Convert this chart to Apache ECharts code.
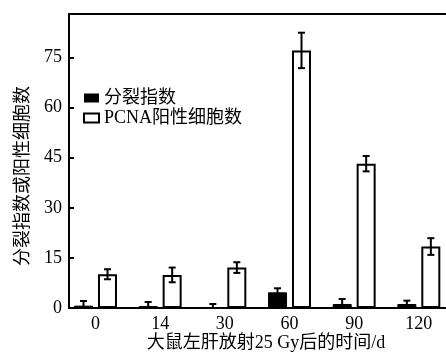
<!DOCTYPE html>
<html><head><meta charset="utf-8">
<script src="https://cdn.jsdelivr.net/npm/echarts@6/dist/echarts.min.js"></script>
<style>html,body{margin:0;padding:0;background:#fff}#c{width:446px;height:353px}</style>
</head><body><div id="c"></div>
<script>
var categories = ['0', '14', '30', '60', '90', '120'];
var mitosisIndex = [0.7, 0.6, 0.3, 4.7, 1.2, 1.2];
var mitosisErr = [1.4, 1.2, 0.9, 1.2, 1.5, 1.0];
var pcnaCells = [10.1, 9.9, 12.1, 77.1, 43.2, 18.4];
var pcnaErr = [1.5, 2.2, 1.6, 5.3, 2.3, 2.5];
var yTicks = [0, 15, 30, 45, 60, 75];
var seriesNames = ['分裂指数', 'PCNA阳性细胞数'];

var FONT = "'Liberation Serif', 'Noto Sans CJK SC', serif";
var chart = echarts.init(document.getElementById('c'), null, {renderer: 'canvas'});
var idx = categories.map(function (_, i) { return i; });

function errSeries(vals, errs, offset) {
  return {
    type: 'custom',
    xAxisIndex: 0, yAxisIndex: 0,
    silent: true,
    z: 5,
    data: idx.map(function (i) { return [i, vals[i], errs[i]]; }),
    renderItem: function (params, api) {
      var x = api.value(0), v = api.value(1), e = api.value(2);
      var top = api.coord([x, v + e]);
      var bot = api.coord([x, Math.max(0, v - e)]);
      var cx = top[0] + offset;
      var cap = 3.5;
      var st = {stroke: '#000', lineWidth: 2};
      return {type: 'group', children: [
        {type: 'line', shape: {x1: cx, y1: top[1], x2: cx, y2: bot[1]}, style: st},
        {type: 'line', shape: {x1: cx - cap, y1: top[1], x2: cx + cap, y2: top[1]}, style: st},
        {type: 'line', shape: {x1: cx - cap, y1: bot[1], x2: cx + cap, y2: bot[1]}, style: st}
      ]};
    }
  };
}

chart.setOption({
  animation: false,
  backgroundColor: '#fff',
  textStyle: {fontFamily: FONT, color: '#000'},
  grid: {left: 69, right: 0, top: 14, bottom: 45, containLabel: false, outerBoundsMode: 'none'},
  legend: {
    orient: 'vertical', left: 78, top: 84,
    itemWidth: 15, itemHeight: 9, itemGap: 2,
    textStyle: {fontFamily: FONT, fontSize: 18, color: '#000'},
    data: [
      {name: seriesNames[0], icon: 'rect', itemStyle: {color: '#000', borderColor: '#000', borderWidth: 0}},
      {name: seriesNames[1], icon: 'rect', itemStyle: {color: '#fff', borderColor: '#000', borderWidth: 2}}
    ]
  },
  xAxis: [{
    type: 'value', min: -0.41, max: 5.42,
    axisLine: {show: true, onZero: false, lineStyle: {color: '#000', width: 2}},
    axisTick: {show: false},
    splitLine: {show: false},
    axisLabel: {
      customValues: idx, margin: 7,
      fontFamily: FONT, fontSize: 18, color: '#000',
      formatter: function (v) { return categories[Math.round(v)]; }
    },
    name: '大鼠左肝放射25 Gy后的时间/d',
    nameLocation: 'middle', nameGap: 26, nameMoveOverlap: false,
    nameTextStyle: {fontFamily: FONT, fontSize: 18, color: '#000', padding: [0, 0, 0, 17]}
  }, {
    type: 'value', min: -0.41, max: 5.42, position: 'top',
    axisLine: {show: true, onZero: false, lineStyle: {color: '#000', width: 2}},
    axisTick: {show: false}, axisLabel: {show: false}, splitLine: {show: false}
  }],
  yAxis: {
    type: 'value', min: 0, max: 88,
    axisLine: {show: true, onZero: false, lineStyle: {color: '#000', width: 2}},
    axisTick: {show: true, inside: true, length: 5, customValues: yTicks, lineStyle: {color: '#000', width: 2}},
    splitLine: {show: false},
    axisLabel: {customValues: yTicks, margin: 7, fontFamily: FONT, fontSize: 18, color: '#000'},
    name: '分裂指数或阳性细胞数',
    nameLocation: 'middle', nameGap: 37, nameRotate: 90, nameMoveOverlap: false,
    nameTextStyle: {fontFamily: FONT, fontSize: 18, color: '#000', padding: [0, 30, 0, 0]}
  },
  series: [
    {
      name: seriesNames[0], type: 'bar', barWidth: 19, barGap: '26%',
      itemStyle: {color: '#000', borderColor: '#000', borderWidth: 1},
      data: idx.map(function (i) { return [i, mitosisIndex[i]]; })
    },
    {
      name: seriesNames[1], type: 'bar', barWidth: 19, barGap: '26%',
      itemStyle: {color: '#fff', borderColor: '#000', borderWidth: 2},
      data: idx.map(function (i) { return [i, pcnaCells[i]]; })
    },
    errSeries(mitosisIndex, mitosisErr, -12),
    errSeries(pcnaCells, pcnaErr, 12)
  ]
});
</script></body></html>
